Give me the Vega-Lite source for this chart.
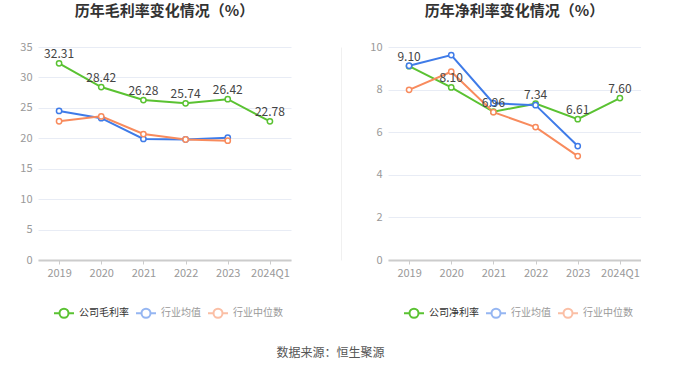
{
  "$schema": "https://vega.github.io/schema/vega-lite/v6.json",
  "padding": {"left": 19, "top": 4, "right": 0, "bottom": 0},
  "bounds": "flush",
  "spacing": 97,
  "background": "#ffffff",
  "resolve": {"scale": {"color": "independent", "stroke": "independent", "y": "independent", "x": "independent"}, "legend": {"color": "independent"}},
  "title": {"text": "数据来源：恒生聚源", "orient": "bottom", "anchor": "middle", "fontSize": 12, "fontWeight": "normal", "color": "#555555", "offset": 26, "font": "Noto Sans CJK SC"},
  "config": {
    "font": "Noto Sans CJK SC",
    "view": {"stroke": null},
    "axis": {"labelFont": "Noto Sans CJK SC", "labelColor": "#999999", "labelFontSize": 11, "titleFontSize": 11},
    "legend": {"labelFont": "Noto Sans CJK SC"}
  },
  "datasets": {
    "gross": [
      {"year": "2019", "series": "公司毛利率", "value": 32.31},
      {"year": "2020", "series": "公司毛利率", "value": 28.42},
      {"year": "2021", "series": "公司毛利率", "value": 26.28},
      {"year": "2022", "series": "公司毛利率", "value": 25.74},
      {"year": "2023", "series": "公司毛利率", "value": 26.42},
      {"year": "2024Q1", "series": "公司毛利率", "value": 22.78},
      {"year": "2019", "series": "行业均值", "value": 24.5},
      {"year": "2020", "series": "行业均值", "value": 23.3},
      {"year": "2021", "series": "行业均值", "value": 19.9},
      {"year": "2022", "series": "行业均值", "value": 19.8},
      {"year": "2023", "series": "行业均值", "value": 20.1},
      {"year": "2019", "series": "行业中位数", "value": 22.8},
      {"year": "2020", "series": "行业中位数", "value": 23.6},
      {"year": "2021", "series": "行业中位数", "value": 20.7},
      {"year": "2022", "series": "行业中位数", "value": 19.8},
      {"year": "2023", "series": "行业中位数", "value": 19.6}
    ],
    "net": [
      {"year": "2019", "series": "公司净利率", "value": 9.10},
      {"year": "2020", "series": "公司净利率", "value": 8.10},
      {"year": "2021", "series": "公司净利率", "value": 6.96},
      {"year": "2022", "series": "公司净利率", "value": 7.34},
      {"year": "2023", "series": "公司净利率", "value": 6.61},
      {"year": "2024Q1", "series": "公司净利率", "value": 7.60},
      {"year": "2019", "series": "行业均值", "value": 9.12},
      {"year": "2020", "series": "行业均值", "value": 9.62},
      {"year": "2021", "series": "行业均值", "value": 7.36},
      {"year": "2022", "series": "行业均值", "value": 7.27},
      {"year": "2023", "series": "行业均值", "value": 5.35},
      {"year": "2019", "series": "行业中位数", "value": 7.99},
      {"year": "2020", "series": "行业中位数", "value": 8.84},
      {"year": "2021", "series": "行业中位数", "value": 6.94},
      {"year": "2022", "series": "行业中位数", "value": 6.24},
      {"year": "2023", "series": "行业中位数", "value": 4.88}
    ]
  },
  "hconcat": [
    {
      "width": 253,
      "height": 213,
      "data": {"name": "gross"},
      "title": {"text": "历年毛利率变化情况（%）", "fontSize": 15, "fontWeight": "bold", "color": "#333333", "anchor": "middle", "offset": 22},
      "resolve": {"axis": {"y": "independent"}},
      "encoding": {
        "x": {"field": "year", "type": "ordinal", "sort": null, "scale": {"type": "point", "padding": 0.5},
          "axis": {"title": null, "labelAngle": 0, "domainColor": "#cccccc", "domainWidth": 2, "tickColor": "#cccccc", "tickSize": 4, "labelPadding": 3, "grid": false}},
        "color": {"field": "series", "type": "nominal", "sort": ["公司毛利率", "行业均值", "行业中位数"],
          "scale": {"domain": ["公司毛利率", "行业均值", "行业中位数"], "range": ["#5ac232", "#3f7be8", "#f88b5d"]},
          "legend": {"title": null, "orient": "none", "legendX": 15, "legendY": 255, "direction": "horizontal",
            "symbolType": "M-1,0L-0.45,0M0.45,0L1,0M-0.45,0A0.45,0.45 0 1,1 0.45,0A0.45,0.45 0 1,1 -0.45,0Z",
            "symbolSize": 400, "symbolStrokeWidth": 2, "labelFontSize": 10, "labelColor": "#333333", "columnPadding": 3, "labelOffset": 4,
            "encode": {"symbols": {"update": {"opacity": {"signal": "datum.value === '公司毛利率' ? 1 : 0.55"}, "fill": {"value": "transparent"}, "fillOpacity": {"value": 0}}},
                       "labels": {"update": {"fill": {"signal": "datum.value === '公司毛利率' ? '#333333' : '#999999'"}}}}}}
      },
      "layer": [
        {"mark": {"type": "line", "strokeWidth": 2},
          "encoding": {"y": {"field": "value", "type": "quantitative", "scale": {"domain": [0, 35], "nice": false},
            "axis": {"title": null, "values": [0, 5, 10, 15, 20, 25, 30, 35], "domain": false, "ticks": false, "gridColor": "#e8ecf5", "labelPadding": 6}}}},
        {"mark": {"type": "point", "filled": true, "fill": "#ffffff", "size": 28, "strokeWidth": 1.5, "opacity": 1},
          "encoding": {"y": {"field": "value", "type": "quantitative", "axis": null},
            "stroke": {"field": "series", "type": "nominal", "legend": null, "scale": {"domain": ["公司毛利率", "行业均值", "行业中位数"], "range": ["#5ac232", "#3f7be8", "#f88b5d"]}}}},
        {"transform": [{"filter": "datum.series === '公司毛利率'"}],
          "mark": {"type": "text", "dy": -9, "fontSize": 12, "color": "#444444"},
          "encoding": {"text": {"field": "value", "type": "quantitative", "format": ".2f"}, "color": {"value": "#444444"},
            "y": {"field": "value", "type": "quantitative", "axis": {"orient": "right", "title": null, "labels": false, "ticks": false, "grid": false, "domain": true, "domainColor": "#f0f0f0", "domainWidth": 1, "offset": 50}}}}
      ]
    },
    {
      "width": 253,
      "height": 213,
      "data": {"name": "net"},
      "title": {"text": "历年净利率变化情况（%）", "fontSize": 15, "fontWeight": "bold", "color": "#333333", "anchor": "middle", "offset": 22},
      "encoding": {
        "x": {"field": "year", "type": "ordinal", "sort": null, "scale": {"type": "point", "padding": 0.5},
          "axis": {"title": null, "labelAngle": 0, "domainColor": "#cccccc", "domainWidth": 2, "tickColor": "#cccccc", "tickSize": 4, "labelPadding": 3, "grid": false}},
        "y": {"field": "value", "type": "quantitative", "scale": {"domain": [0, 10], "nice": false},
          "axis": {"title": null, "values": [0, 2, 4, 6, 8, 10], "domain": false, "ticks": false, "gridColor": "#e8ecf5", "labelPadding": 6}},
        "color": {"field": "series", "type": "nominal", "sort": ["公司净利率", "行业均值", "行业中位数"],
          "scale": {"domain": ["公司净利率", "行业均值", "行业中位数"], "range": ["#5ac232", "#3f7be8", "#f88b5d"]},
          "legend": {"title": null, "orient": "none", "legendX": 15, "legendY": 255, "direction": "horizontal",
            "symbolType": "M-1,0L-0.45,0M0.45,0L1,0M-0.45,0A0.45,0.45 0 1,1 0.45,0A0.45,0.45 0 1,1 -0.45,0Z",
            "symbolSize": 400, "symbolStrokeWidth": 2, "labelFontSize": 10, "labelColor": "#333333", "columnPadding": 3, "labelOffset": 4,
            "encode": {"symbols": {"update": {"opacity": {"signal": "datum.value === '公司净利率' ? 1 : 0.55"}, "fill": {"value": "transparent"}, "fillOpacity": {"value": 0}}},
                       "labels": {"update": {"fill": {"signal": "datum.value === '公司净利率' ? '#333333' : '#999999'"}}}}}}
      },
      "layer": [
        {"mark": {"type": "line", "strokeWidth": 2}},
        {"mark": {"type": "point", "filled": true, "fill": "#ffffff", "size": 28, "strokeWidth": 1.5, "opacity": 1}, "encoding": {"stroke": {"field": "series", "type": "nominal", "legend": null, "scale": {"domain": ["公司净利率", "行业均值", "行业中位数"], "range": ["#5ac232", "#3f7be8", "#f88b5d"]}}}},
        {"transform": [{"filter": "datum.series === '公司净利率'"}],
          "mark": {"type": "text", "dy": -9, "fontSize": 12, "color": "#444444"},
          "encoding": {"text": {"field": "value", "type": "quantitative", "format": ".2f"}, "color": {"value": "#444444"}}}
      ]
    }
  ]
}
